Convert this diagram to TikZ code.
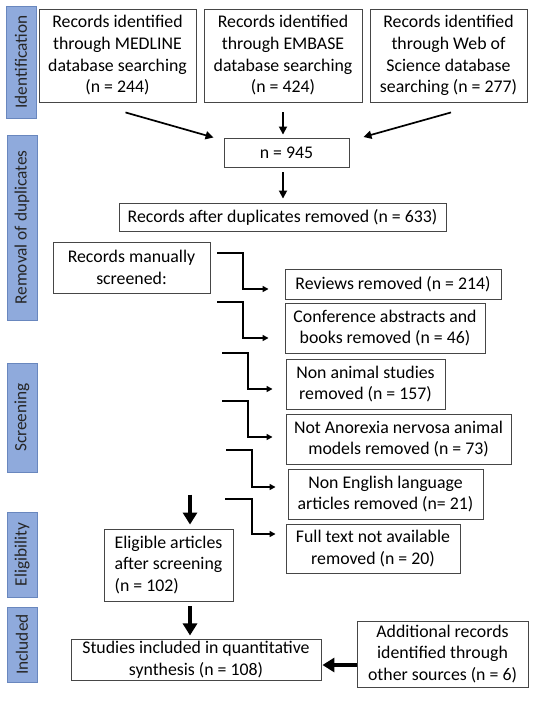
\documentclass[tikz,border=0pt]{standalone}
\usepackage{fontspec}
\setmainfont{Carlito}
\usetikzlibrary{arrows.meta,calc}
\definecolor{barfill}{RGB}{143,170,220}
\definecolor{bardraw}{RGB}{105,135,190}
\definecolor{boxdraw}{RGB}{70,70,70}
\tikzset{
  box/.style={draw=boxdraw, line width=0.9pt, fill=white, align=center, inner sep=2pt,
    font=\fontsize{17.8}{21.7}\selectfont},
  bar/.style={draw=bardraw, line width=0.9pt, fill=barfill, rotate=90, inner sep=0pt,
    font=\fontsize{17.3}{20}\selectfont, text=black!85},
  thin/.style={line width=1.7pt, -{Triangle[width=8pt,length=8pt]}},
  elb/.style={line width=1.9pt, -{Triangle[width=6pt,length=6pt]}},
  thick/.style={line width=3.2pt, -{Triangle[width=14pt,length=12pt]}}
}
\begin{document}
\begin{tikzpicture}[x=1pt,y=-1pt]
\useasboundingbox (0,0) rectangle (536,702);
\fill[white] (0,0) rectangle (536,702);
% side bars
\node[bar, minimum width=112pt, minimum height=30pt] (b1) at (21,62) {Identification};
\node[bar, minimum width=185pt, minimum height=30pt] (b2) at (22,227.5) {Removal of duplicates};
\node[bar, minimum width=109pt, minimum height=30pt] (b3) at (22,417.5) {Screening};
\node[bar, minimum width=85pt, minimum height=30pt] (b4) at (22,554.5) {Eligibility};
\node[bar, minimum width=75pt, minimum height=30pt] (b5) at (22,644.5) {Included};
% boxes
\node[box, minimum width=157pt, minimum height=93pt] (med) at (117.5,55.5) {Records identified\\through MEDLINE\\database searching\\(n = 244)};
\node[box, minimum width=158pt, minimum height=93pt] (emb) at (283,55.5) {Records identified\\through EMBASE\\database searching\\(n = 424)};
\node[box, minimum width=157pt, minimum height=93pt] (wos) at (448.5,55.5) {Records identified\\through Web of\\Science database\\searching (n = 277)};
\node[box, minimum width=125pt, minimum height=29pt] (n945) at (286.5,152.5) {n = 945};
\node[box, minimum width=327pt, minimum height=28pt] (dup) at (282.5,217) {Records after duplicates removed (n = 633)};
\node[box, minimum width=157pt, minimum height=51pt] (man) at (131.5,267.5) {Records manually\\screened:};
\node[box, minimum width=216pt, minimum height=30pt] (rev) at (393,284) {Reviews removed (n = 214)};
\node[box, minimum width=200pt, minimum height=50pt] (conf) at (385,328) {Conference abstracts and\\books removed (n = 46)};
\node[box, minimum width=159pt, minimum height=50pt] (nonan) at (365.5,384) {Non animal studies\\removed (n = 157)};
\node[box, minimum width=225pt, minimum height=50pt] (notan) at (398.5,439) {Not Anorexia nervosa animal\\models removed (n = 73)};
\node[box, minimum width=195pt, minimum height=50pt] (noneng) at (385.5,494) {Non English language\\articles removed (n= 21)};
\node[box, minimum width=174pt, minimum height=49pt] (full) at (373,548.5) {Full text not available\\removed (n = 20)};
\node[box, minimum width=129pt, minimum height=72pt, align=left] (elig) at (168.5,565) {Eligible articles\\after screening\\(n = 102)};
\node[box, minimum width=250pt, minimum height=41pt] (stud) at (196,659.5) {Studies included in quantitative\\synthesis (n = 108)};
\node[box, minimum width=171pt, minimum height=66pt] (add) at (442.5,654) {Additional records\\identified through\\other sources (n = 6)};
% identification arrows
\draw[thin] ($(med.south)+(8,10)$) -- ($(n945.west)+(-10,-15)$);
\draw[thin] ($(emb.south)+(0,10)$) -- ($(emb.south |- n945.north)+(0,-3)$);
\draw[thin] ($(wos.south)+(2.5,10)$) -- ($(n945.east)+(14,-15.5)$);
\draw[thin] ($(emb.south |- n945.south)+(0,5)$) -- ($(emb.south |- dup.north)+(0,-4)$);
% elbow connectors
\coordinate (e1) at (217,253);
\coordinate (e2) at (217,302);
\coordinate (e3) at (222,353);
\coordinate (e4) at (222,401);
\coordinate (e5) at (226,450);
\coordinate (e6) at (225,499);
\draw[elb] (e1) -| ($(rev.west)+(-42,5)$) -- ($(rev.west)+(-16,5)$);
\draw[elb] (e2) -| ($(conf.west)+(-42,10)$) -- ($(conf.west)+(-16,10)$);
\draw[elb] (e3) -| ($(nonan.west)+(-38,5)$) -- ($(nonan.west)+(-13,5)$);
\draw[elb] (e4) -| ($(notan.west)+(-38,-2)$) -- ($(notan.west)+(-13,-2)$);
\draw[elb] (e5) -| ($(noneng.west)+(-36,-7)$) -- ($(noneng.west)+(-12,-7)$);
\draw[elb] (e6) -| ($(full.west)+(-34,-14.5)$) -- ($(full.west)+(-10,-14.5)$);
% thick arrows
\draw[thick] ($(elig.north)+(21.5,-34)$) -- ($(elig.north)+(21.5,-4)$);
\draw[thick] ($(elig.south)+(21.5,5)$) -- ($(elig.south -| stud.north)+(-6,34)$);
\draw[thick] ($(add.west)+(0,11)$) -- ($(stud.east)+(1,5.5)$);
\end{tikzpicture}
\end{document}
